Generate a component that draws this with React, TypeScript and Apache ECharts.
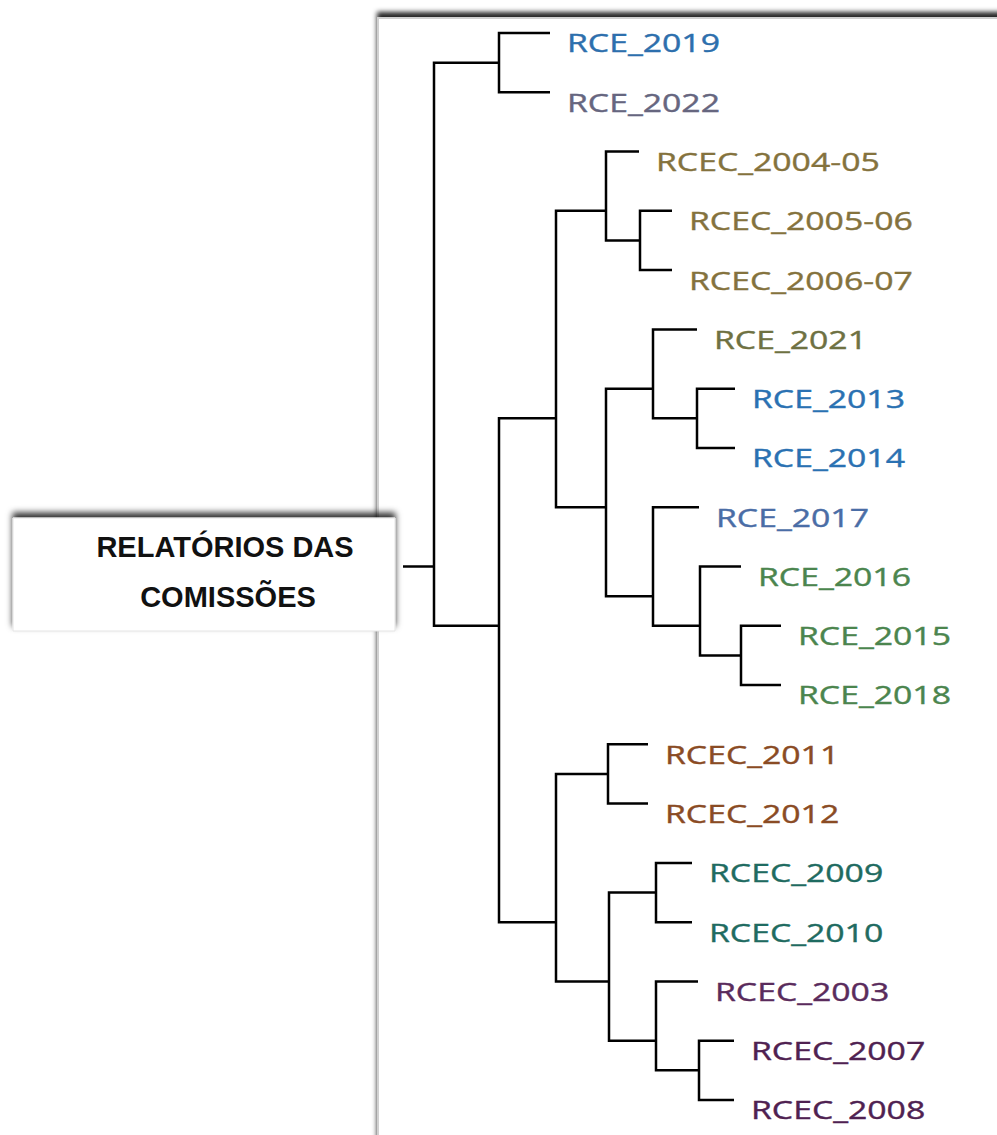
import React, { useEffect, useRef } from "react";
import * as echarts from "echarts";

// ---- data -------------------------------------------------------------
const leafLabels = [
  "RCE_2019", "RCE_2022", "RCEC_2004-05", "RCEC_2005-06", "RCEC_2006-07",
  "RCE_2021", "RCE_2013", "RCE_2014", "RCE_2017", "RCE_2016", "RCE_2015",
  "RCE_2018", "RCEC_2011", "RCEC_2012", "RCEC_2009", "RCEC_2010",
  "RCEC_2003", "RCEC_2007", "RCEC_2008",
];
const leafColors = [
  "#2d6fad", "#66667f", "#84723d", "#84723d", "#84723d",
  "#6e7142", "#2a71b2", "#2a71b2", "#4a6da6", "#4b854e", "#4b854e",
  "#4b854e", "#8a4b24", "#8a4b24", "#1f6b61", "#1f6b61",
  "#5a2b5c", "#4f2151", "#4f2151",
];
// branch tip position of every leaf (distance units from the root)
const leafTips = [
  11.6, 11.6, 20.5, 23.8, 23.8, 26.3, 30.1, 30.1, 26.5, 30.7, 34.7,
  34.7, 21.4, 21.4, 25.8, 25.8, 26.4, 30.0, 30.0,
];
// linkage: merge k joins mergeLeft[k] and mergeRight[k] at mergeForks[k];
// ids < 19 are leaves, id 19 + k is merge k
const mergeLeft = [3, 6, 10, 9, 8, 5, 24, 2, 26, 0, 12, 14, 17, 16, 30, 29, 27, 28];
const mergeRight = [4, 7, 11, 21, 22, 20, 23, 19, 25, 1, 13, 15, 18, 31, 32, 33, 34, 35];
const mergeForks = [
  20.6, 26.3, 30.7, 26.6, 21.9, 21.9, 17.2, 17.2, 12.2, 6.5,
  17.4, 22.2, 26.5, 22.2, 17.5, 12.2, 6.5, 0,
];
const rootStem = -3.1;
const rootTitle = ["RELATÓRIOS DAS", "COMISSÕES"];

// ---- derived tree geometry (in data units) -------------------------------
const nLeaves = leafLabels.length;
function nodeX(id: number): number {
  return id < nLeaves ? leafTips[id] : mergeForks[id - nLeaves];
}
function nodeSpan(id: number): [number, number] {
  if (id < nLeaves) return [id, id];
  const k = id - nLeaves;
  return [nodeSpan(mergeLeft[k])[0], nodeSpan(mergeRight[k])[1]];
}
function nodeY(id: number): number {
  const s = nodeSpan(id);
  return (s[0] + s[1]) / 2;
}
const rootId = nLeaves + mergeForks.length - 1;

const edgeData = mergeForks.map((f, k) => [f, nodeY(nLeaves + k), k]);
edgeData.push([rootStem, nodeY(rootId), -1]);
const labelData = leafTips.map((t, i) => [t, i, i]);

export default function App() {
  const ref = useRef<HTMLDivElement>(null);
  useEffect(() => {
    const chart = echarts.init(ref.current!, null, { renderer: "svg" });
    const lineStyle = { stroke: "#000", lineWidth: 2.5, fill: null, lineJoin: "miter" };
    chart.setOption({
      animation: false,
      backgroundColor: "#fff",
      grid: { left: 394, top: 33, width: 600, height: 1067 },
      xAxis: { type: "value", min: -4, max: 56, show: false },
      yAxis: { type: "value", min: 0, max: 18, inverse: true, show: false },
      graphic: [
        {
          type: "rect",
          z: 0,
          shape: { x: 378, y: 18, width: 700, height: 1200 },
          style: {
            fill: "#fff",
            stroke: "#d0d0d0",
            lineWidth: 2,
            shadowColor: "rgba(0,0,0,0.85)",
            shadowBlur: 5,
            shadowOffsetY: -5,
          },
        },
        {
          type: "rect",
          z: 1,
          shape: { x: 13, y: 518, width: 382, height: 113 },
          style: {
            fill: "#fff",
            stroke: "#e4e4e4",
            lineWidth: 1,
            shadowColor: "rgba(0,0,0,0.8)",
            shadowBlur: 6,
            shadowOffsetY: -5,
          },
        },
        {
          type: "text",
          z: 2,
          x: 225,
          y: 547,
          style: {
            text: rootTitle[0],
            font: 'bold 29px "Liberation Sans", Arial, sans-serif',
            fill: "#111",
            align: "center",
            verticalAlign: "middle",
            textAlign: "center",
            textVerticalAlign: "middle",
          },
        },
        {
          type: "text",
          z: 2,
          x: 228,
          y: 597,
          style: {
            text: rootTitle[1],
            font: 'bold 29px "Liberation Sans", Arial, sans-serif',
            fill: "#111",
            align: "center",
            verticalAlign: "middle",
            textAlign: "center",
            textVerticalAlign: "middle",
          },
        },
      ],
      series: [
        {
          type: "custom",
          name: "branches",
          coordinateSystem: "cartesian2d",
          silent: true,
          data: edgeData,
          renderItem: (params: any, api: any) => {
            const k = api.value(2);
            if (k < 0) {
              const a = api.coord([rootStem, nodeY(rootId)]);
              const b = api.coord([nodeX(rootId), nodeY(rootId)]);
              return { type: "polyline", shape: { points: [a, b] }, style: lineStyle };
            }
            const l = mergeLeft[k];
            const r = mergeRight[k];
            const f = mergeForks[k];
            const pts = [
              api.coord([nodeX(l), nodeY(l)]),
              api.coord([f, nodeY(l)]),
              api.coord([f, nodeY(r)]),
              api.coord([nodeX(r), nodeY(r)]),
            ];
            return { type: "polyline", shape: { points: pts }, style: lineStyle };
          },
        },
        {
          type: "custom",
          name: "leaves",
          coordinateSystem: "cartesian2d",
          silent: true,
          data: labelData,
          renderItem: (params: any, api: any) => {
            const i = api.value(2);
            const p = api.coord([leafTips[i], i]);
            return {
              type: "text",
              x: p[0] + 17,
              y: p[1] + 9.5,
              scaleX: 1.3,
              style: {
                text: leafLabels[i],
                fill: leafColors[i],
                stroke: leafColors[i],
                lineWidth: 0.4,
                font: '26px "Open Sans", "Noto Sans", sans-serif',
                align: "left",
                verticalAlign: "middle",
              },
            };
          },
        },
      ],
    });
    return () => chart.dispose();
  }, []);
  return (
    <div
      ref={ref}
      style={{ position: "fixed", left: 0, top: 0, width: 997, height: 1135, background: "#fff" }}
    />
  );
}
